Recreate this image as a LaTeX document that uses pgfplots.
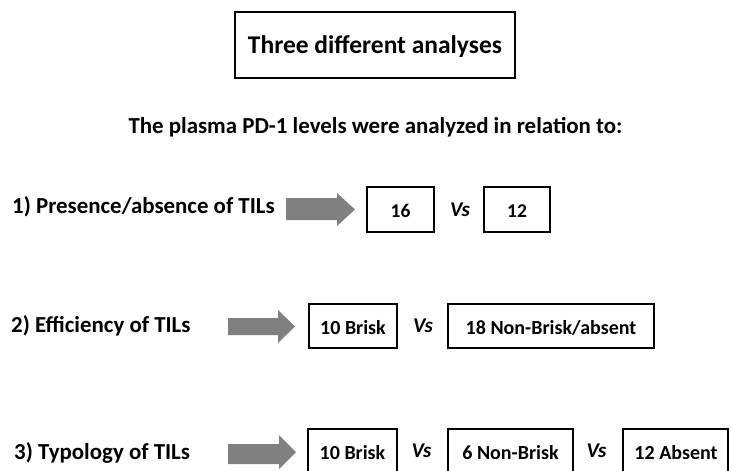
\documentclass[border=0pt]{standalone}
\usepackage{pgfplots}
\pgfplotsset{compat=1.18}
\usepackage{fontspec}
\setmainfont{Carlito}
\definecolor{arrowgray}{RGB}{128,128,128}
\begin{document}
\begin{tikzpicture}
\begin{axis}[scale only axis, width=731pt, height=471pt,
  xmin=0, xmax=731, ymin=0, ymax=471, y dir=reverse,
  axis lines=none, clip=false]
% title box
\draw[line width=1.4pt] (axis cs:235,12) rectangle (axis cs:515,78);
\node[anchor=base, font=\fontsize{25.5}{28}\selectfont\bfseries] at (axis cs:375,53) {Three different analyses};
\node[anchor=base, font=\fontsize{22.9}{26}\selectfont\bfseries] at (axis cs:375.5,133) {The plasma PD-1 levels were analyzed in relation to:};
% row labels
\node[anchor=base west, inner sep=0pt, font=\fontsize{22.9}{26}\selectfont\bfseries] at (axis cs:12,213) {1) Presence/absence of TILs};
\node[anchor=base west, inner sep=0pt, font=\fontsize{22.9}{26}\selectfont\bfseries] at (axis cs:11,332) {2) Efficiency of TILs};
\node[anchor=base west, inner sep=0pt, font=\fontsize{22.9}{26}\selectfont\bfseries] at (axis cs:14,459) {3) Typology of TILs};
% arrows
\addplot[fill=arrowgray, draw=none] coordinates {(286,198) (337,198) (337,193) (355,209.5) (337,226) (337,220) (286,220)} -- cycle;
\addplot[fill=arrowgray, draw=none] coordinates {(228,318) (278,318) (278,310) (295,326.5) (278,343) (278,335) (228,335)} -- cycle;
\addplot[fill=arrowgray, draw=none] coordinates {(228,444) (279,444) (279,435) (296,452) (279,469) (279,464) (228,464)} -- cycle;
% row 1
\draw[line width=1.4pt] (axis cs:367,187) rectangle (axis cs:434,232);
\draw[line width=1.4pt] (axis cs:484,187) rectangle (axis cs:550,232);
\node[anchor=base, font=\fontsize{19.5}{22}\selectfont\bfseries] at (axis cs:400.5,217) {16};
\node[anchor=base, font=\fontsize{21}{24}\selectfont\bfseries\itshape] at (axis cs:460,216) {Vs};
\node[anchor=base, font=\fontsize{19.5}{22}\selectfont\bfseries] at (axis cs:517,217) {12};
% row 2
\draw[line width=1.4pt] (axis cs:309,304) rectangle (axis cs:397,348);
\draw[line width=1.4pt] (axis cs:448,304) rectangle (axis cs:654,348);
\node[anchor=base, font=\fontsize{20}{22}\selectfont\bfseries] at (axis cs:353,334) {10 Brisk};
\node[anchor=base, font=\fontsize{21}{24}\selectfont\bfseries\itshape] at (axis cs:423,332) {Vs};
\node[anchor=base, font=\fontsize{20}{22}\selectfont\bfseries] at (axis cs:551,334) {18 Non-Brisk/absent};
% row 3
\draw[line width=1.4pt] (axis cs:308,429) rectangle (axis cs:397,474);
\draw[line width=1.4pt] (axis cs:448,429) rectangle (axis cs:573,474);
\draw[line width=1.4pt] (axis cs:623,429) rectangle (axis cs:728,474);
\node[anchor=base, font=\fontsize{20}{22}\selectfont\bfseries] at (axis cs:352.5,459) {10 Brisk};
\node[anchor=base, font=\fontsize{21}{24}\selectfont\bfseries\itshape] at (axis cs:421.5,457) {Vs};
\node[anchor=base, font=\fontsize{20}{22}\selectfont\bfseries] at (axis cs:510.5,459) {6 Non-Brisk};
\node[anchor=base, font=\fontsize{21}{24}\selectfont\bfseries\itshape] at (axis cs:596.5,457) {Vs};
\node[anchor=base, font=\fontsize{20}{22}\selectfont\bfseries] at (axis cs:676,459) {12 Absent};
\end{axis}
\pgfresetboundingbox
\path (0,0) rectangle (731pt,471pt);
\end{tikzpicture}
\end{document}
